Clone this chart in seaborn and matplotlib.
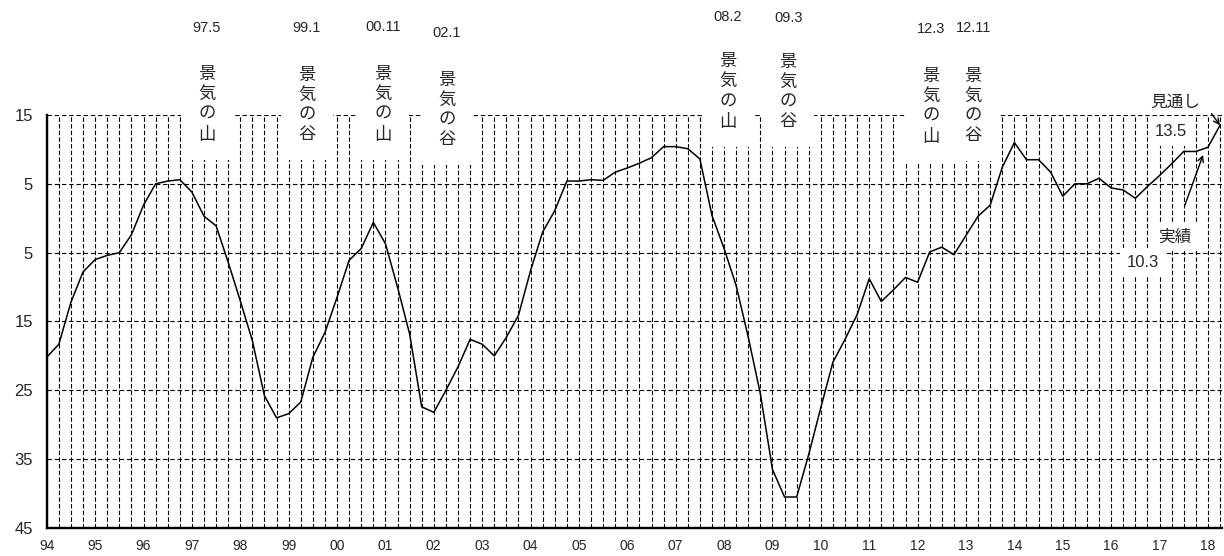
import numpy as np
import pandas as pd
import seaborn as sns
from matplotlib import pyplot as plt

# quarterly DI, 1994Q1 .. 2018Q1 actual + 2018Q2 outlook
di = [-20.2, -18.3, -12.2, -7.8, -6.0, -5.4, -5.0, -2.4, 1.9, 5.0,
      5.4, 5.6, 3.8, 0.3, -1.1, -6.4, -12.0, -17.8, -25.8, -29.0,
      -28.4, -26.7, -20.2, -16.6, -11.5, -6.1, -4.4, -0.6, -3.7, -10.0,
      -16.8, -27.4, -28.2, -25.0, -21.6, -17.6, -18.3, -20.0, -17.3, -14.1,
      -7.6, -2.0, 1.1, 5.4, 5.4, 5.6, 5.5, 6.7, 7.3, 8.0,
      8.8, 10.4, 10.4, 10.1, 8.6, 0.4, -4.4, -9.8, -17.3, -25.5,
      -36.5, -40.5, -40.5, -34.3, -27.5, -20.9, -17.6, -14.0, -8.8, -12.1,
      -10.4, -8.6, -9.3, -4.9, -4.2, -5.3, -2.5, 0.3, 1.9, 7.4,
      11.0, 8.5, 8.5, 6.7, 3.2, 5.0, 5.0, 5.8, 4.4, 4.1,
      2.9, 4.6, 6.2, 7.9, 9.7, 9.7, 10.3, 13.5]

year_labels = ["94", "95", "96", "97", "98", "99", "00", "01", "02", "03",
               "04", "05", "06", "07", "08", "09", "10", "11", "12", "13",
               "14", "15", "16", "17", "18"]
y_ticks = [15, 5, -5, -15, -25, -35, -45]
y_labels = ["15", "5", "5", "15", "25", "35", "45"]

# turning points
tp_dates = ["97.5", "99.1", "00.11", "02.1", "08.2", "09.3", "12.3", "12.11"]
tp_kinds = ["景気の山", "景気の谷", "景気の山", "景気の谷",
            "景気の山", "景気の谷", "景気の山", "景気の谷"]
tp_x = [13.25, 21.5, 27.8, 33.1, 56.3, 61.3, 73.1, 76.6]
tp_date_y = [27.6, 27.6, 27.8, 26.9, 29.2, 29.1, 27.5, 27.6]
tp_text_y = [16.45, 16.45, 16.45, 15.7, 18.3, 18.3, 16.2, 16.3]

sns.set_style("white")
plt.rcParams["font.family"] = ["Liberation Sans", "Noto Sans CJK JP", "DejaVu Sans"]

df = pd.DataFrame({"q": np.arange(len(di)), "di": di})

fig = plt.figure(figsize=(12.24, 5.56), dpi=100)
ax = fig.add_axes([0.0382, 0.0504, 0.9605, 0.7428])

sns.lineplot(data=df, x="q", y="di", color="black", linewidth=1.1, ax=ax, zorder=2)

ax.set_xlim(0, 97.2)
ax.set_ylim(-45, 15)
ax.set_xticks(np.arange(len(year_labels)) * 4)
ax.set_xticklabels(year_labels, fontsize=10)
ax.set_xticks(np.arange(1, len(di)), minor=True)
ax.set_yticks(y_ticks)
ax.set_yticklabels(y_labels, fontsize=12)
ax.tick_params(axis="both", which="both", length=0)
ax.tick_params(axis="x", pad=8)
ax.tick_params(axis="y", pad=10)

ax.grid(which="both", axis="x", color="black", linestyle=(0, (4, 2)), linewidth=0.8)
ax.grid(which="major", axis="y", color="black", linestyle=(0, (4, 2.5)), linewidth=0.8)
ax.set_axisbelow(True)

for side in ["top", "right"]:
    ax.spines[side].set_visible(False)
for side in ["left", "bottom"]:
    ax.spines[side].set_color("black")
    ax.spines[side].set_linewidth(1.7)

ax.set_xlabel("")
ax.set_ylabel("")

box = dict(boxstyle="square,pad=1.0", facecolor="white", edgecolor="none")
for d, k, x, yd, yt in zip(tp_dates, tp_kinds, tp_x, tp_date_y, tp_text_y):
    ax.text(x, yd, d, ha="center", va="center", fontsize=10.5, clip_on=False)
    ax.text(x, yt, "\n".join(k), ha="center", va="center", fontsize=12.5,
            linespacing=1.36, bbox=box, clip_on=False, zorder=5)

# outlook / actual annotations
small_box = dict(boxstyle="square,pad=0.4", facecolor="white", edgecolor="none")
ax.text(93.3, 16.9, "見通し", ha="center", va="center", fontsize=12, clip_on=False)
ax.text(92.9, 12.6, "13.5", ha="center", va="center", fontsize=12, bbox=small_box, zorder=5)
ax.text(93.3, -2.7, "実績", ha="center", va="center", fontsize=12, bbox=small_box, zorder=5)
ax.text(90.6, -6.4, "10.3", ha="center", va="center", fontsize=12, bbox=small_box, zorder=5)
ax.annotate("", xy=(len(di) - 1, di[-1]), xytext=(96.3, 15.2),
            arrowprops=dict(arrowstyle="->", color="black", lw=1.0,
                            shrinkA=0, shrinkB=0), annotation_clip=False)
ax.annotate("", xy=(95.6, 9.2), xytext=(94.1, 1.9),
            arrowprops=dict(arrowstyle="->", color="black", lw=1.0,
                            shrinkA=0, shrinkB=0))

fig.savefig("out.png", dpi=100)
